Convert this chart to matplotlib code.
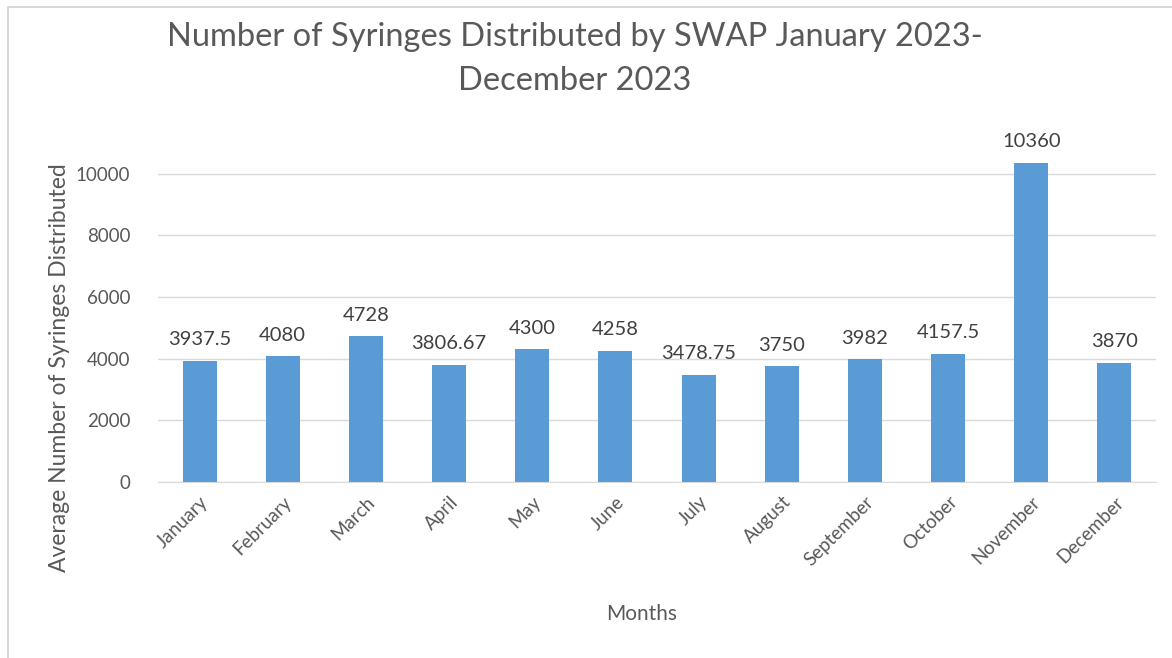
import matplotlib
matplotlib.use("Agg")
import matplotlib.pyplot as plt
from matplotlib.patches import Rectangle

months = ["January", "February", "March", "April", "May", "June", "July",
          "August", "September", "October", "November", "December"]
values = [3937.5, 4080, 4728, 3806.67, 4300, 4258, 3478.75, 3750, 3982, 4157.5, 10360, 3870]
labels = ["3937.5", "4080", "4728", "3806.67", "4300", "4258", "3478.75",
          "3750", "3982", "4157.5", "10360", "3870"]
yticks = [0, 2000, 4000, 6000, 8000, 10000]

plt.rcParams['font.family'] = ['Lato', 'DejaVu Sans']
W, H = 1172, 658
fig = plt.figure(figsize=(W / 100, H / 100), dpi=100)

# outer chart frame
fig.patches.append(Rectangle((8 / W, -0.05), 1.2, 1 - 7 / H + 0.05, transform=fig.transFigure,
                             fill=False, edgecolor="#D0D0D0", linewidth=1.2))

ax = fig.add_axes([158 / W, 1 - 482 / H, (1156 - 158) / W, (482 - 143) / H])
x = list(range(len(months)))
ax.bar(x, values, width=0.41, color="#5B9BD5", zorder=3)
ax.set_xlim(-0.5, len(months) - 0.5)
ax.set_ylim(0, 11000)
ax.set_yticks(yticks)
ax.set_yticklabels([str(t) for t in yticks], fontsize=13.5, color="#595959")
ax.set_xticks(x)
ax.set_xticklabels(months, rotation=45, ha="right", rotation_mode="anchor",
                   fontsize=13.5, color="#595959")
ax.tick_params(axis="both", length=0)
ax.tick_params(axis="y", pad=20)
ax.tick_params(axis="x", pad=8)
for s in ["top", "right", "left"]:
    ax.spines[s].set_visible(False)
ax.spines["bottom"].set_color("#D9D9D9")
ax.yaxis.grid(True, color="#D9D9D9", linewidth=1)
ax.set_axisbelow(True)

for xi, v, lab in zip(x, values, labels):
    ax.annotate(lab, (xi, v), xytext=(0, 9), textcoords="offset points",
                ha="center", va="bottom", fontsize=14.5, color="#404040")

fig.text(642 / W, 1 - 614 / H, "Months", ha="center", va="center",
         fontsize=15, color="#595959")
fig.text(60 / W, 1 - 368 / H, "Average Number of Syringes Distributed", rotation=90,
         ha="center", va="center", fontsize=16.5, color="#595959")

fig.text(575 / W, 1 - 59 / H, "Number of Syringes Distributed by SWAP January 2023-\nDecember 2023",
         ha="center", va="center", fontsize=23.5, color="#595959", linespacing=1.6)

fig.savefig("out.png", dpi=100)
